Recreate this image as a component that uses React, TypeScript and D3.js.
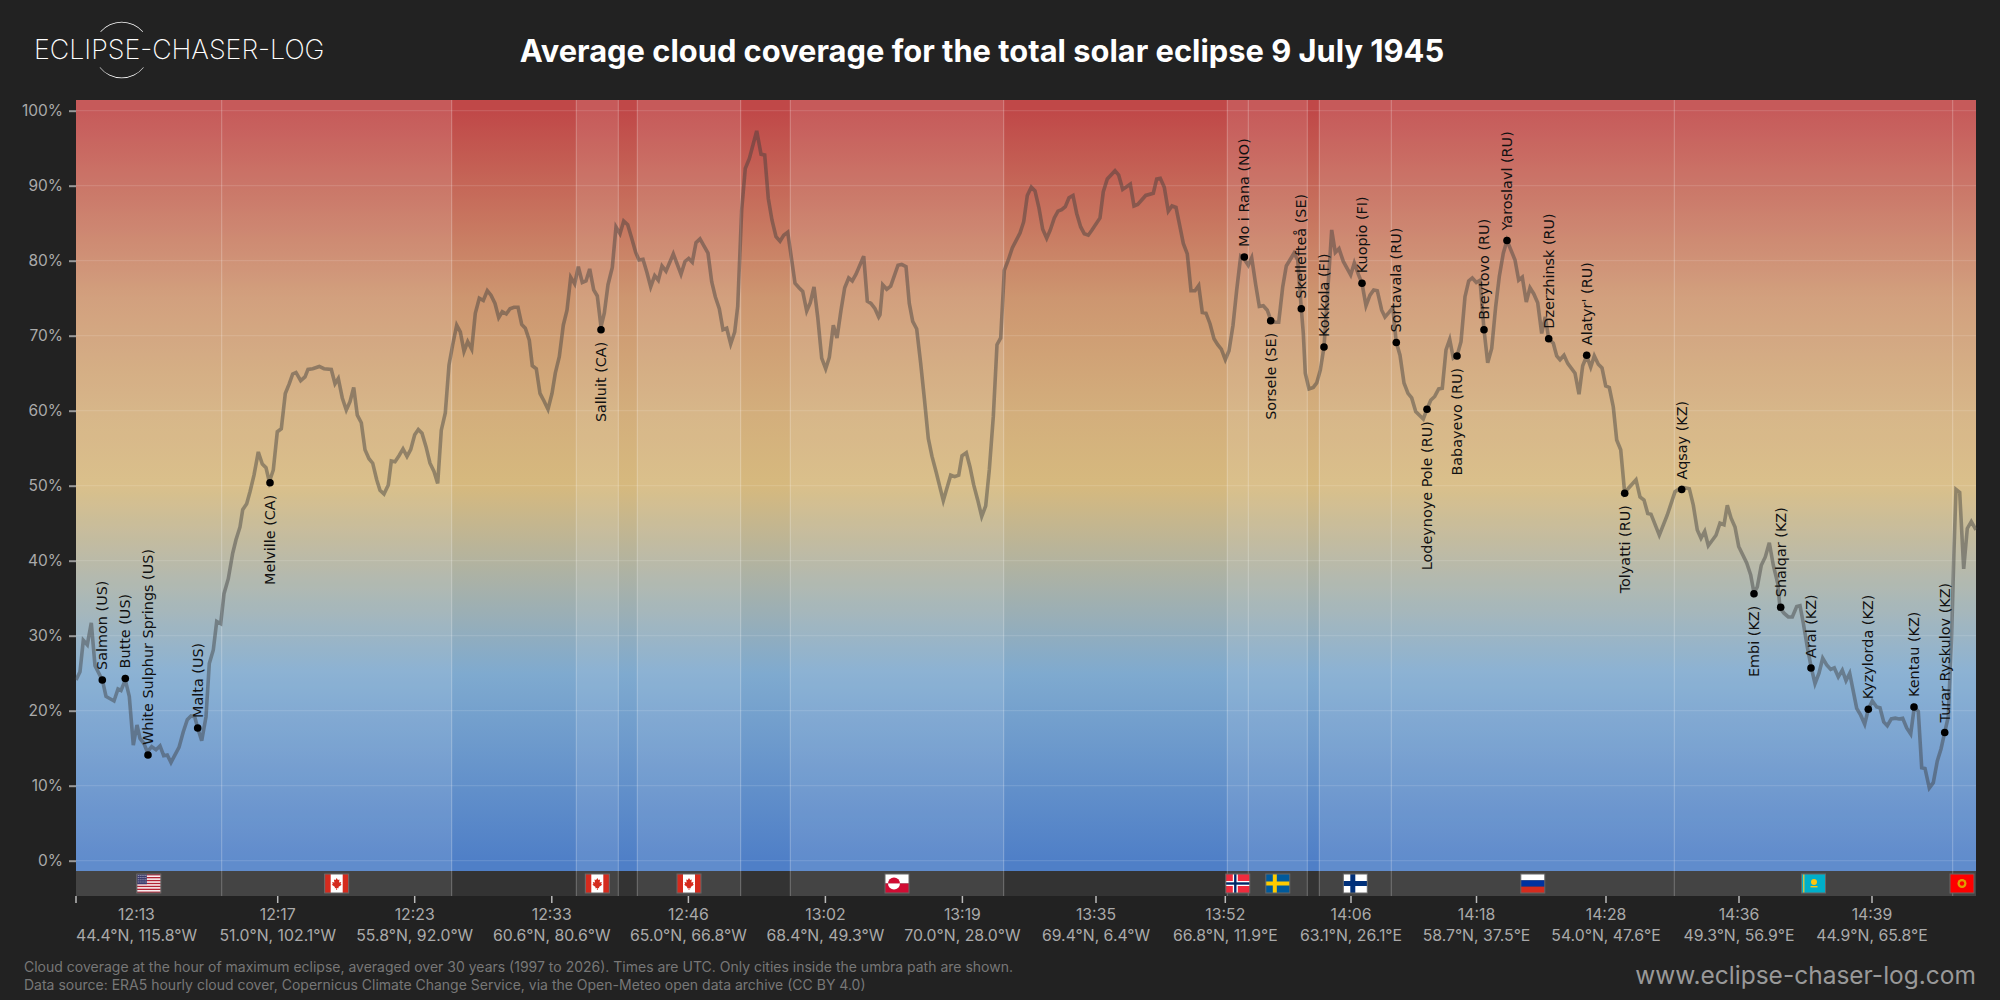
import * as d3 from "d3";
import { useEffect } from "react";

type Pt = [number, number];

const title = "Average cloud coverage for the total solar eclipse 9 July 1945";

// along-track position (0-1900) and average cloud cover in %
const trackUs: Pt[] = [
  [0, 24.1], [4, 25.2], [7.3, 29.4], [11.3, 28.8], [15.3, 31.7], [19, 26], [24, 24.7], [26.7, 23.9],
  [30, 21.9], [38, 21.3], [42, 22.9], [45, 22.7], [49.3, 24.1], [53.3, 21.9], [57.3, 15.4], [61, 18.1],
  [64, 16.3], [68, 15.6], [71.3, 14.5], [75.7, 15.2], [80, 14.8], [84, 15.3], [87.7, 14], [91.3, 14.1],
  [95, 13.1], [103, 15.1], [107.3, 17.2], [111.3, 18.8], [115, 19.3], [118.7, 19.2], [121.7, 17.7],
  [125.7, 16], [130, 19.2], [133.3, 26.3], [137.3, 28.1], [140.7, 31.9], [144.7, 31.6], [148, 35.6],
  [152.3, 37.6], [156.7, 41], [160, 42.8], [164, 44.5],
];
const trackCanada: Pt[] = [
  [166.7, 46.8], [170.7, 47.6], [174, 49.2], [178, 51.4], [182.3, 54.5], [186.3, 52.9], [190, 52.4],
  [193.3, 50.5], [197.3, 52.1], [201.3, 57.2], [205.3, 57.6], [209.3, 62.3], [213.3, 63.6], [216.7, 64.9],
  [220, 65.1], [224.7, 64], [229, 64.5], [232, 65.5], [236.7, 65.6], [243.3, 65.9], [248, 65.6],
  [255.3, 65.5], [259, 63.6], [262.3, 64.3], [266.3, 61.7], [270.3, 60.1], [274, 61.2], [277.7, 63.1],
  [281.3, 59.4], [285.3, 58.4], [289, 54.8], [293, 53.6], [296.7, 53], [300.7, 50.8], [304, 49.4],
  [308, 48.9], [312.3, 50.1], [315.3, 53.3], [319, 53.2], [323, 54], [327, 54.9], [331, 53.9],
  [334.7, 54.8], [338.7, 56.8], [342.3, 57.5], [346, 57], [350, 55.2], [354, 53], [358, 51.9],
  [361.7, 50.3], [365.3, 57.4], [369.3, 59.7], [373, 66.1], [376.7, 68.8], [380.7, 71.4], [384.3, 70.5],
];
const trackHudson: Pt[] = [
  [388, 67.9], [391.7, 69.2], [395.7, 68.2], [399.3, 73], [403.3, 75], [407.3, 74.7], [411.3, 76],
  [415, 75.4], [419, 74.3], [422.7, 72.4], [426.3, 73.2], [430.3, 72.9], [434, 73.6], [438, 73.8],
  [442, 73.8], [445.7, 71.5], [449.3, 71], [453.3, 69.4], [456.3, 66], [460.3, 65.6], [464, 62.3],
  [468, 61.3], [472, 60.2], [476, 62.3], [479.3, 65], [483.3, 67.2], [487.3, 71.4], [491, 73.4],
  [494.7, 77.8], [498.7, 76.9], [502.3, 79.2], [506.3, 77.1], [510, 77.3], [513.7, 78.9], [517.7, 76.1],
  [521.3, 75.3], [525, 71.2], [528.3, 73], [532, 76.8], [536.3, 79.1], [540, 84.5], [544, 83.6],
  [547.7, 85.3], [551.7, 84.8], [555.7, 83], [559.7, 81.1], [563, 80.1], [567, 80.2], [571, 78.4],
  [574.7, 76.5], [578.7, 78], [582.3, 77.4], [586, 79.3], [590, 78.6], [597.3, 80.9], [605, 78.2],
  [609, 79.9], [612.7, 80.3], [616.3, 79.8], [620, 82.4], [624, 82.9], [632, 81], [635.7, 77.2],
  [639.3, 75.2], [643.3, 73.6], [647, 70.8], [650.7, 71], [654.7, 68.9], [658.7, 70.5], [661.7, 73.9],
  [665.7, 86.8], [669.3, 92.3], [673.3, 93.6], [680.7, 97.3], [685, 94.2], [688.7, 94.1], [692.3, 88.3],
  [696, 85.4], [700, 83.2], [704, 82.6], [707.7, 83.4], [711.7, 83.8], [715.7, 80.1], [719, 77],
  [723, 76.4], [726.7, 75.9], [730.7, 73.3], [734.3, 74.4], [738, 76.5], [741.7, 72.5], [745.7, 67],
  [749.7, 65.6], [753.3, 67.1], [757.3, 71.4], [761, 69.7], [765, 73.4], [768.7, 76.4], [772.7, 77.7],
  [776.3, 77.3], [780, 78.2], [787.7, 80.6], [791.3, 74.6], [795, 74.3], [799, 73.6], [802.7, 72.5],
];
const trackAtlantic: Pt[] = [
  [804, 72.8], [806.7, 76.8], [810.7, 76.2], [814.7, 76.6], [822, 79.4], [825.7, 79.5], [830, 79.2],
  [833.3, 74.3], [836.7, 71.9], [840.7, 70.9], [844.7, 66.3], [848.3, 61.7], [852.3, 56.3], [856, 53.9],
  [860, 51.9], [867.3, 48], [874.7, 51.4], [878.7, 51.2], [882.7, 51.4], [886, 54], [890.3, 54.4],
  [894, 52.5], [897.7, 50.1], [901.7, 48.1], [905.7, 45.9], [909.7, 47.3], [913.3, 52.1], [917.3, 59.2],
  [921, 68.8], [924.7, 69.7], [928.3, 78.7], [932.3, 80.1], [936.3, 81.7], [944, 83.7], [947.7, 85.2],
  [951.3, 88.7], [955.3, 89.8], [959, 89.3], [963, 87], [966.7, 84.2], [970.7, 83], [974.3, 84.1],
  [978.3, 85.7], [982, 86.6], [985.7, 86.8], [989.3, 87.2], [993, 88.4], [997, 88.7], [1000.7, 86.3],
  [1004.7, 84.5], [1008.3, 83.6], [1012.3, 83.4], [1016, 84.1], [1024, 85.7], [1027.3, 89.2], [1031.3, 90.9],
  [1039, 92], [1042.7, 91.4], [1046.7, 89.5], [1054.3, 90.2], [1058, 87.3], [1061.7, 87.5], [1069.7, 88.7],
  [1077.3, 89], [1080.7, 90.9], [1084.3, 91], [1088.3, 89.8], [1092.3, 86.6], [1096, 87.3], [1100, 87.1],
  [1104, 84.5], [1107.3, 82.3], [1111.3, 80.9], [1115, 76], [1119, 76], [1122.7, 76.7], [1126.3, 73.1],
  [1130, 73], [1134, 71.6], [1138, 69.6], [1141.7, 68.8], [1145.3, 68.2], [1149.3, 66.8], [1153, 68],
  [1157, 71.4], [1160.7, 76.1], [1164.7, 80.6], [1168.3, 80.2], [1172.3, 79.4], [1175.7, 80.4], [1179.7, 76.8],
  [1183.3, 73.9], [1187.3, 74], [1191.3, 73.4], [1195, 72], [1199, 71.8], [1202.7, 71.8], [1206.7, 76.5],
  [1210.3, 79.3], [1218, 81],
];
const trackNordic: Pt[] = [
  [1221.7, 80.1], [1225.3, 73.6], [1227.3, 70.3], [1229.3, 65], [1233, 62.9], [1237.3, 63.1], [1240.7, 63.7],
  [1244.3, 65.4], [1248, 68.5], [1252, 76.5], [1255.7, 84.1], [1259.3, 81.1], [1263, 81.6], [1267.3, 79.9],
  [1274.7, 78.1], [1278.3, 79.7], [1282.3, 78.2], [1286, 77], [1290, 74], [1294, 75.4], [1297.7, 76.1],
  [1301.3, 76], [1305.7, 73.4], [1309, 72.5], [1313, 73.1], [1316.7, 73.7],
];
const trackRussia: Pt[] = [
  [1320.3, 69.1], [1324, 67.4], [1328, 63.7], [1332, 62.3], [1335.7, 61.7], [1339.7, 59.9], [1347.3, 58.9],
  [1351, 60.2], [1354.7, 61.4], [1358.7, 61.9], [1362.7, 62.9], [1366.3, 63], [1370, 68.1], [1373.7, 69.5],
  [1377.3, 67], [1381, 67.3], [1385, 69.2], [1389, 75.2], [1392.7, 77.3], [1396.3, 77.7], [1400.3, 77.1],
  [1404, 77.4], [1408, 70.8], [1411.7, 66.4], [1415.7, 68.3], [1419.7, 73.9], [1423.3, 77.9], [1427.3, 81],
  [1431, 82.7], [1439, 80.1], [1442.7, 77.4], [1446.3, 77.8], [1450.3, 74.5], [1454, 76.4], [1457.7, 75.6],
  [1461.7, 74.4], [1465.7, 70.3], [1469.3, 72.5], [1472.7, 69.6], [1477.3, 69], [1480.7, 67.3], [1484, 66.8],
  [1488, 67.4], [1491.7, 66.3], [1499, 65], [1503, 62.2], [1506.7, 66], [1510.7, 67.3], [1514.7, 65.8],
  [1518.3, 67.3], [1522.3, 66.2], [1526, 65.7], [1529.7, 63.3], [1533.3, 63.1], [1537.3, 60.5], [1540.7, 56.1],
  [1544.7, 54.8], [1548.7, 49], [1552.7, 49.7], [1560, 50.8], [1564, 48.5], [1568, 48.1], [1571.7, 46.3],
  [1575, 46.2], [1583.3, 43.4], [1591.3, 46.1],
];
const trackKazakhstan: Pt[] = [
  [1599, 49.2], [1605.7, 49.8], [1613.3, 49.6], [1617.3, 47.4], [1621.3, 44.1], [1625, 43], [1628.7, 43.9],
  [1632.3, 42], [1640, 43.4], [1644, 45], [1648, 44.8], [1651.3, 47.4], [1655, 45.7], [1659, 44.5],
  [1662.7, 41.9], [1670.7, 39.7], [1674.7, 38.1], [1678, 35.7], [1681.3, 36.5], [1685.3, 39.4], [1689.3, 40.5],
  [1693.3, 42.4], [1697.3, 39.4], [1701.7, 37], [1704, 33.7], [1708, 33], [1712.3, 32.5], [1716.3, 32.5],
  [1720.7, 33.9], [1724, 34], [1727.3, 31.7], [1731.3, 28.5], [1735, 25.9], [1739, 23.6], [1743, 25],
  [1746.7, 27], [1750.7, 26.1], [1754.7, 25.5], [1758.3, 25.7], [1762.3, 24.5], [1766.3, 25.4], [1770, 24],
  [1773.7, 25], [1780.7, 20.3], [1784.7, 19.4], [1788.7, 18.2], [1792.3, 20.2], [1796.3, 21.3], [1800.7, 20.5],
  [1804, 20.4], [1807.7, 18.5], [1811.3, 18], [1815.3, 18.9], [1819.3, 19], [1823, 18.9], [1826.7, 19],
  [1830.7, 17.7], [1834.7, 16.9], [1838.3, 20.5], [1842.3, 19.9], [1845.7, 12.4], [1849, 12.3], [1853.3, 9.7],
  [1857.3, 10.4], [1861.3, 13.3], [1865, 14.9], [1868.7, 17.1], [1872.3, 19.2], [1875.7, 30.3], [1878, 41.4],
  [1880, 49.5], [1883.7, 49.1], [1887.7, 38.9], [1891.3, 44.3], [1895.3, 45.2], [1900, 44.1],
];

const cityNames = [
  "Salmon (US)", "Butte (US)", "White Sulphur Springs (US)", "Malta (US)", "Melville (CA)", "Salluit (CA)",
  "Mo i Rana (NO)", "Sorsele (SE)", "Skellefteå (SE)", "Kokkola (FI)", "Kuopio (FI)", "Sortavala (RU)",
  "Lodeynoye Pole (RU)", "Babayevo (RU)", "Breytovo (RU)", "Yaroslavl (RU)", "Dzerzhinsk (RU)", "Alatyr' (RU)",
  "Tolyatti (RU)", "Aqsay (KZ)", "Embi (KZ)", "Shalqar (KZ)", "Aral (KZ)", "Kyzylorda (KZ)", "Kentau (KZ)",
  "Turar Ryskulov (KZ)",
];
const cityPos = [
  26.3, 49.3, 72, 121.7, 194, 525, 1168.3, 1194.7, 1225.3, 1248, 1286, 1320.3, 1351, 1381, 1408, 1431, 1472.7,
  1510.7, 1548.7, 1605.7, 1678, 1704.7, 1735, 1792.3, 1838, 1868.7,
];
const cityCover = [
  24.1, 24.3, 14.1, 17.7, 50.4, 70.8, 80.5, 72, 73.6, 68.5, 77, 69.1, 60.2, 67.3, 70.8, 82.7, 69.6, 67.4, 49,
  49.5, 35.6, 33.8, 25.7, 20.2, 20.5, 17.1,
];
const citiesBelow = ["Melville (CA)", "Salluit (CA)", "Sorsele (SE)", "Lodeynoye Pole (RU)", "Babayevo (RU)", "Tolyatti (RU)", "Embi (KZ)"];

// country segments along the track; "" is open water
const bandEdges = [0, 145.7, 375.7, 500.3, 542.3, 561.3, 664.7, 714.3, 927.7, 1151.3, 1172.3, 1231.3, 1243.3, 1315.3, 1598.3, 1876.7, 1900];
const bandCountries = ["US", "CA", "", "CA", "", "CA", "", "GL", "", "NO", "SE", "", "FI", "RU", "KZ", "KG"];

const tickPos = [0, 201.7, 338.7, 475.8, 612.4, 749.4, 886.4, 1020, 1149.3, 1275, 1400.5, 1530, 1663, 1796];
const tickTimes = ["12:13", "12:17", "12:23", "12:33", "12:46", "13:02", "13:19", "13:35", "13:52", "14:06", "14:18", "14:28", "14:36", "14:39"];
const tickCoords = [
  "44.4°N, 115.8°W", "51.0°N, 102.1°W", "55.8°N, 92.0°W", "60.6°N, 80.6°W", "65.0°N, 66.8°W", "68.4°N, 49.3°W",
  "70.0°N, 28.0°W", "69.4°N, 6.4°W", "66.8°N, 11.9°E", "63.1°N, 26.1°E", "58.7°N, 37.5°E", "54.0°N, 47.6°E",
  "49.3°N, 56.9°E", "44.9°N, 65.8°E",
];
const yTicks = [0, 10, 20, 30, 40, 50, 60, 70, 80, 90, 100];
const footnotes = [
  "Cloud coverage at the hour of maximum eclipse, averaged over 30 years (1997 to 2026). Times are UTC. Only cities inside the umbra path are shown.",
  "Data source: ERA5 hourly cloud cover, Copernicus Climate Change Service, via the Open-Meteo open data archive (CC BY 4.0)",
];

const INTER = "Inter, 'Noto Sans', sans-serif";
const FW = 24;
const FH = 19;

// little flags, drawn inside a FW x FH box
const drawFlag = (g: any, code: string) => {
  const rect = (x: number, y: number, w: number, h: number, fill: string) =>
    g.append("rect").attr("x", x).attr("y", y).attr("width", w).attr("height", h).attr("fill", fill);
  if (code === "US") {
    rect(0, 0, FW, FH, "#fff");
    d3.range(0, 13, 2).forEach((i) => rect(0, (i * FH) / 13, FW, FH / 13, "#b22234"));
    rect(0, 0, 10, (7 * FH) / 13, "#3c3b6e");
    d3.range(0, 4).forEach((r) =>
      d3.range(0, 5).forEach((c) => rect(1 + c * 1.9, 1 + r * 2.2, 0.8, 0.8, "#ddd"))
    );
  } else if (code === "CA") {
    rect(0, 0, FW, FH, "#fff");
    rect(0, 0, 6, FH, "#d52b1e");
    rect(18, 0, 6, FH, "#d52b1e");
    g.append("path").attr("d", "M12 4l1.2 2 1.6-.6-.5 3 2.2-.4-.6 2 1 .7-3.2 2.2.3 1.4-1.6-.3V16h-.8v-2l-1.6.3.3-1.4L7.1 10.7l1-.7-.6-2 2.2.4-.5-3 1.6.6z").attr("fill", "#d52b1e");
  } else if (code === "GL") {
    rect(0, 0, FW, FH / 2, "#fff");
    rect(0, FH / 2, FW, FH / 2, "#d00c33");
    g.append("path").attr("d", d3.arc()({ innerRadius: 0, outerRadius: 6, startAngle: -Math.PI / 2, endAngle: Math.PI / 2 } as any)).attr("transform", `translate(9,${FH / 2})`).attr("fill", "#d00c33");
    g.append("path").attr("d", d3.arc()({ innerRadius: 0, outerRadius: 6, startAngle: Math.PI / 2, endAngle: (3 * Math.PI) / 2 } as any)).attr("transform", `translate(9,${FH / 2})`).attr("fill", "#fff");
  } else if (code === "NO") {
    rect(0, 0, FW, FH, "#ef2b3d");
    rect(7, 0, 5, FH, "#fff");
    rect(0, 7, FW, 5, "#fff");
    rect(8.3, 0, 2.4, FH, "#002868");
    rect(0, 8.3, FW, 2.4, "#002868");
  } else if (code === "SE") {
    rect(0, 0, FW, FH, "#005a9c");
    rect(7, 0, 4, FH, "#fecb00");
    rect(0, 7.5, FW, 4, "#fecb00");
  } else if (code === "FI") {
    rect(0, 0, FW, FH, "#fff");
    rect(7, 0, 5, FH, "#00307a");
    rect(0, 7, FW, 5, "#00307a");
  } else if (code === "RU") {
    rect(0, 0, FW, FH / 3, "#fff");
    rect(0, FH / 3, FW, FH / 3, "#0032a0");
    rect(0, (2 * FH) / 3, FW, FH / 3, "#d52b1e");
  } else if (code === "KZ") {
    rect(0, 0, FW, FH, "#00afca");
    rect(1.5, 0, 1.5, FH, "#c8c44a");
    g.append("circle").attr("cx", 12.5).attr("cy", 8).attr("r", 3).attr("fill", "#fec50c");
    rect(9, 12, 7, 1.4, "#fec50c");
  } else if (code === "KG") {
    rect(0, 0, FW, FH, "#ff0000");
    g.append("circle").attr("cx", FW / 2).attr("cy", FH / 2).attr("r", 4.5).attr("fill", "#e0a000");
    g.append("circle").attr("cx", FW / 2).attr("cy", FH / 2).attr("r", 2.2).attr("fill", "#ff0000");
  }
  g.append("rect").attr("x", 0).attr("y", 0).attr("width", FW).attr("height", FH).attr("fill", "none").attr("stroke", "#666").attr("stroke-width", 1);
};

const App = () => {
  useEffect(() => {
    d3.select("#cloud_chart").selectAll("*").remove();

    const width = 2000,
      height = 1000,
      left = 76,
      right = 1976,
      top = 100,
      bottom = 871,
      stripBottom = 896;

    const svg = d3
      .select("#cloud_chart")
      .append("svg")
      .attr("width", width)
      .attr("height", height)
      .style("position", "absolute")
      .style("left", 0)
      .style("top", 0)
      .style("display", "block");

    svg.append("rect").attr("width", width).attr("height", height).attr("fill", "#222222");

    const x = d3.scaleLinear().domain([0, 1900]).range([left, right]);
    const y = d3.scaleLinear().domain([0, 100]).range([860.7, 110.7]);

    const grad = svg
      .append("defs")
      .append("linearGradient")
      .attr("id", "cover_grad")
      .attr("gradientUnits", "userSpaceOnUse")
      .attr("x1", 0)
      .attr("x2", 0)
      .attr("y1", y(100))
      .attr("y2", y(0));
    [
      [0, "#c04848"],
      [25, "#cd9670"],
      [40, "#d3ae7c"],
      [50, "#d6b97e"],
      [75, "#7faacf"],
      [100, "#4f7fc7"],
    ].forEach(([o, c]) => grad.append("stop").attr("offset", `${o}%`).attr("stop-color", c as string));

    // plot background
    svg.append("rect").attr("x", left).attr("y", top).attr("width", right - left).attr("height", bottom - top).attr("fill", "url(#cover_grad)");
    svg.append("rect").attr("x", left).attr("y", bottom).attr("width", right - left).attr("height", stripBottom - bottom).attr("fill", "#333333");

    // land segments are washed out a bit, open water is left as is
    bandCountries.forEach((code, i) => {
      if (!code) return;
      const x0 = x(bandEdges[i]);
      const x1 = x(bandEdges[i + 1]);
      svg.append("rect").attr("x", x0).attr("y", top).attr("width", x1 - x0).attr("height", bottom - top).attr("fill", "#fff").attr("fill-opacity", 0.1);
      svg.append("rect").attr("x", x0).attr("y", bottom).attr("width", x1 - x0).attr("height", stripBottom - bottom).attr("fill", "#444444");
    });

    // grid
    svg
      .append("g")
      .selectAll("line")
      .data(yTicks)
      .enter()
      .append("line")
      .attr("x1", left)
      .attr("x2", right)
      .attr("y1", (d) => y(d))
      .attr("y2", (d) => y(d))
      .attr("stroke", "#fff")
      .attr("stroke-opacity", 0.15);

    svg
      .append("g")
      .selectAll("line")
      .data(bandEdges.slice(1, -1))
      .enter()
      .append("line")
      .attr("x1", (d) => x(d))
      .attr("x2", (d) => x(d))
      .attr("y1", top)
      .attr("y2", stripBottom)
      .attr("stroke", "#fff")
      .attr("stroke-opacity", 0.28);

    // flags
    bandCountries.forEach((code, i) => {
      if (!code) return;
      const mid = (x(bandEdges[i]) + x(bandEdges[i + 1])) / 2;
      const fx = Math.min(mid - FW / 2, right - FW - 2);
      const g = svg.append("g").attr("transform", `translate(${fx},874)`);
      drawFlag(g, code);
    });

    // y axis
    const yAxis = svg
      .append("g")
      .attr("transform", `translate(${left},0)`)
      .call(d3.axisLeft(y).tickValues(yTicks).tickSize(7).tickPadding(6).tickFormat((d) => `${d}%`));
    yAxis.select(".domain").remove();
    yAxis.selectAll("line").attr("stroke", "#999").attr("stroke-width", 2);
    yAxis.selectAll("text").attr("fill", "#aaa").style("font-family", INTER).style("font-size", "15.5px");

    // x ticks, two line labels
    tickPos.forEach((p, i) => {
      const px = x(p);
      svg.append("line").attr("x1", px).attr("x2", px).attr("y1", 896).attr("y2", 903).attr("stroke", "#bbb").attr("stroke-width", 1.5);
      const coord = svg
        .append("text")
        .attr("x", px)
        .attr("y", 941)
        .attr("text-anchor", i === 0 ? "start" : "middle")
        .attr("fill", "#aaa")
        .style("font-family", INTER)
        .style("font-size", "15.8px")
        .text(tickCoords[i]);
      const w = (coord.node() as SVGTextElement).getComputedTextLength();
      svg
        .append("text")
        .attr("x", i === 0 ? px + w / 2 : px)
        .attr("y", 920)
        .attr("text-anchor", "middle")
        .attr("fill", "#aaa")
        .style("font-family", INTER)
        .style("font-size", "15.8px")
        .text(tickTimes[i]);
    });

    // cloud line
    const track = [...trackUs, ...trackCanada, ...trackHudson, ...trackAtlantic, ...trackNordic, ...trackRussia, ...trackKazakhstan];
    const line = d3
      .line<Pt>()
      .x((d) => x(d[0]))
      .y((d) => y(d[1]));
    svg
      .append("path")
      .attr("d", line(track))
      .attr("fill", "none")
      .attr("stroke", "#3c3c3c")
      .attr("stroke-opacity", 0.45)
      .attr("stroke-width", 3.6);

    // cities
    cityNames.forEach((name, i) => {
      const cx = x(cityPos[i]);
      const cy = y(cityCover[i]);
      svg.append("circle").attr("cx", cx).attr("cy", cy).attr("r", 3.8).attr("fill", "#000");
      const below = citiesBelow.includes(name);
      svg
        .append("text")
        .attr("transform", `translate(${cx + 5},${below ? cy + 12 : cy - 10}) rotate(-90)`)
        .attr("text-anchor", below ? "end" : "start")
        .attr("fill", "#111")
        .style("font-family", "'DejaVu Sans', sans-serif")
        .style("font-size", "14.4px")
        .text(name);
    });

    // header
    svg
      .append("text")
      .attr("x", 982)
      .attr("y", 62)
      .attr("text-anchor", "middle")
      .attr("fill", "#fff")
      .style("font-family", INTER)
      .style("font-weight", 700)
      .style("font-size", "30.85px")
      .text(title);

    const logo = svg.append("g").attr("transform", "translate(121.7,50)");
    const arc = d3.arc();
    [
      [-0.86, 0.86],
      [Math.PI - 0.9, Math.PI + 0.9],
    ].forEach(([a0, a1]) => {
      logo
        .append("path")
        .attr("d", arc({ innerRadius: 27.6, outerRadius: 28.2, startAngle: a0, endAngle: a1 } as any))
        .attr("fill", "#fff");
    });
    svg
      .append("text")
      .attr("x", 34)
      .attr("y", 59)
      .attr("fill", "#fff")
      .style("font-family", INTER)
      .style("font-weight", 200)
      .style("font-size", "26.8px")
      .text("ECLIPSE-CHASER-LOG");

    // footer
    footnotes.forEach((t, i) => {
      svg
        .append("text")
        .attr("x", 24)
        .attr("y", 972 + i * 18)
        .attr("fill", "#777")
        .style("font-family", INTER)
        .style("font-size", "14px")
        .text(t);
    });
    svg
      .append("text")
      .attr("x", right)
      .attr("y", 984)
      .attr("text-anchor", "end")
      .attr("fill", "#999")
      .style("font-family", INTER)
      .style("font-size", "24.5px")
      .text("www.eclipse-chaser-log.com");
  }, []);

  return <div id="cloud_chart" />;
};

export default App;
